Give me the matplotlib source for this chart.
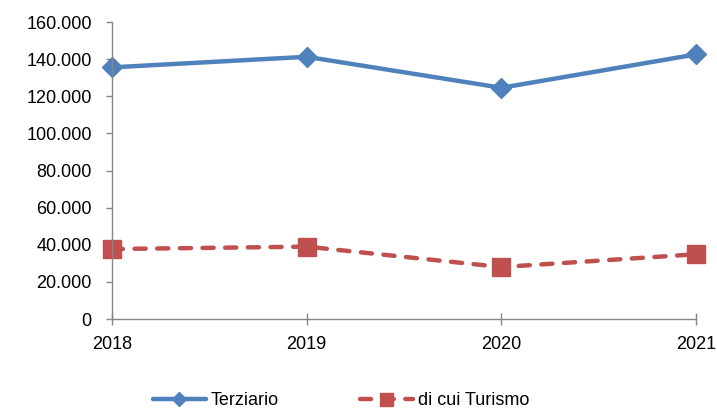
import matplotlib.pyplot as plt
from matplotlib.ticker import FuncFormatter

plt.rcParams['font.family'] = ['Liberation Sans', 'DejaVu Sans']

years = [2018, 2019, 2020, 2021]
terziario = [135600, 141300, 124600, 142600]
turismo = [37700, 39000, 28000, 34900]
y_ticks = list(range(0, 160001, 20000))

blue = "#4F81BD"
red = "#C0504D"
grey = "#868686"


def thousands(v, pos):
    if v == 0:
        return "0"
    return "{:,.0f}".format(v).replace(",", ".")


fig = plt.figure(figsize=(7.17, 4.09), dpi=100)
ax = fig.add_axes([0.156, 0.22, 0.815, 0.726])

ax.plot(years, terziario, color=blue, lw=3.2, marker="D", markersize=10,
        solid_capstyle="round", label="Terziario", clip_on=False)
ax.plot(years, turismo, color=red, lw=3.2, marker="s", markersize=13,
        linestyle=(0, (2.5, 2.6)), dash_capstyle="round",
        label="di cui Turismo", clip_on=False)

ax.set_xlim(2018, 2021)
ax.set_ylim(0, 160000)
ax.set_xticks(years)
ax.set_yticks(y_ticks)
ax.yaxis.set_major_formatter(FuncFormatter(thousands))

for side in ("top", "right"):
    ax.spines[side].set_visible(False)
for side in ("left", "bottom"):
    ax.spines[side].set_color(grey)
    ax.spines[side].set_linewidth(1)

ax.tick_params(axis="y", direction="out", length=4.5, width=1, color=grey,
               pad=10, labelsize=13)
ax.tick_params(axis="x", direction="inout", length=8, width=1, color=grey,
               pad=8, labelsize=13)

fig.legend(loc="lower center", bbox_to_anchor=(0.476, -0.04), ncol=2,
           frameon=False, fontsize=13, handlelength=2.9, handletextpad=0.3,
           columnspacing=4.5, markerscale=0.72)

fig.savefig("out.png", dpi=100)
